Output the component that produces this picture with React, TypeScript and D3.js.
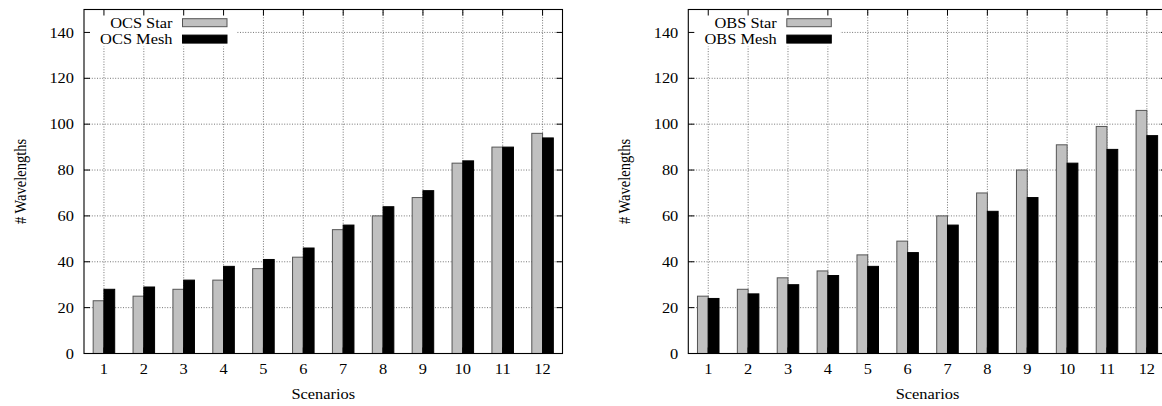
import React, { useEffect, useRef } from 'react';
import * as d3 from 'd3';

// scenarios on the x axis
const scenarios = [1, 2, 3, 4, 5, 6, 7, 8, 9, 10, 11, 12];
const yTicks = [0, 20, 40, 60, 80, 100, 120, 140];

// wavelengths per scenario
const ocsStar = [23, 25, 28, 32, 37, 42, 54, 60, 68, 83, 90, 96];
const ocsMesh = [28, 29, 32, 38, 41, 46, 56, 64, 71, 84, 90, 94];
const obsStar = [25, 28, 33, 36, 43, 49, 60, 70, 80, 91, 99, 106];
const obsMesh = [24, 26, 30, 34, 38, 44, 56, 62, 68, 83, 89, 95];

const W = 1162;
const H = 406;
const FONT = "'Liberation Serif', serif";
const FS = 14.5;
const SX = 1.13; // the picture is a bit wider than tall

const drawPanel = (svg, left, right, names, series) => {
    const top = 9.5;
    const bottom = 353.5;
    const x = d3.scaleLinear().domain([0.5, 12.5]).range([left, right]);
    const y = d3.scaleLinear().domain([0, 150]).range([bottom, top]);
    const bw = (x(2) - x(1)) * 0.27;

    const g = svg.append('g')
        .style('font-family', FONT)
        .style('font-size', FS + 'px');

    // grid
    g.selectAll('line.gy')
        .data(yTicks.filter(t => t > 0))
        .enter().append('line')
        .attr('x1', left).attr('x2', right)
        .attr('y1', d => y(d)).attr('y2', d => y(d))
        .attr('stroke', '#666').attr('stroke-width', 0.9)
        .attr('stroke-dasharray', '1,1.6');
    g.selectAll('line.gx')
        .data(scenarios)
        .enter().append('line')
        .attr('x1', d => x(d)).attr('x2', d => x(d))
        .attr('y1', top).attr('y2', bottom)
        .attr('stroke', '#666').attr('stroke-width', 0.9)
        .attr('stroke-dasharray', '1,1.6');

    // legend background hides the grid
    g.append('rect')
        .attr('x', left).attr('y', top)
        .attr('width', 152).attr('height', 37)
        .attr('fill', '#fff');

    // bars
    const fills = ['#c0c0c0', '#000'];
    const strokes = ['#555', '#000'];
    series.forEach((vals, si) => {
        g.selectAll('rect.s' + si)
            .data(vals)
            .enter().append('rect')
            .attr('x', (d, i) => x(scenarios[i]) + (si - 1) * bw)
            .attr('y', d => y(d))
            .attr('width', bw)
            .attr('height', d => y(0) - y(d))
            .attr('fill', fills[si])
            .attr('stroke', strokes[si])
            .attr('stroke-width', 1);
    });

    // ticks (inward, on all four sides)
    const tk = 6;
    yTicks.forEach(t => {
        g.append('line').attr('x1', left).attr('x2', left + tk)
            .attr('y1', y(t)).attr('y2', y(t)).attr('stroke', '#000');
        g.append('line').attr('x1', right).attr('x2', right - tk)
            .attr('y1', y(t)).attr('y2', y(t)).attr('stroke', '#000');
        g.append('text')
            .attr('transform', `translate(${left - 10},${y(t)}) scale(${SX},1)`)
            .attr('dy', '0.35em')
            .attr('text-anchor', 'end')
            .text(t);
    });
    scenarios.forEach(s => {
        g.append('line').attr('x1', x(s)).attr('x2', x(s))
            .attr('y1', bottom).attr('y2', bottom - tk).attr('stroke', '#000');
        g.append('line').attr('x1', x(s)).attr('x2', x(s))
            .attr('y1', top).attr('y2', top + tk).attr('stroke', '#000');
        g.append('text')
            .attr('transform', `translate(${x(s)},374) scale(${SX},1)`)
            .attr('text-anchor', 'middle')
            .text(s);
    });

    // frame
    g.append('rect')
        .attr('x', left).attr('y', top)
        .attr('width', right - left).attr('height', bottom - top)
        .attr('fill', 'none').attr('stroke', '#000').attr('stroke-width', 1.1);

    // axis titles
    g.append('text')
        .attr('transform', `translate(${(left + right) / 2},399) scale(${SX},1)`)
        .attr('text-anchor', 'middle')
        .text('Scenarios');
    g.append('text')
        .attr('transform', `translate(${left - 58},${(top + bottom) / 2}) scale(${SX},1) rotate(-90)`)
        .attr('text-anchor', 'middle')
        .text('# Wavelengths');

    // legend
    names.forEach((name, i) => {
        const cy = 22.7 + i * 16.4;
        g.append('text')
            .attr('transform', `translate(${left + 88.5},${cy}) scale(${SX},1)`)
            .attr('dy', '0.35em')
            .attr('text-anchor', 'end')
            .text(name);
        g.append('rect')
            .attr('x', left + 98.5).attr('y', cy - 4)
            .attr('width', 44.5).attr('height', 8)
            .attr('fill', fills[i])
            .attr('stroke', strokes[i])
            .attr('stroke-width', 1);
    });
};

const App = () => {
    const ref = useRef(null);

    useEffect(() => {
        const svg = d3.select(ref.current);
        svg.selectAll('*').remove();
        drawPanel(svg, 84, 562.5, ['OCS Star', 'OCS Mesh'], [ocsStar, ocsMesh]);
        drawPanel(svg, 688.3, 1166.8, ['OBS Star', 'OBS Mesh'], [obsStar, obsMesh]);
    }, []);

    return (
        <svg
            ref={ref}
            width={W}
            height={H}
            style={{ position: 'absolute', left: 0, top: 0, background: '#fff' }}
        />
    );
};

export default App;
